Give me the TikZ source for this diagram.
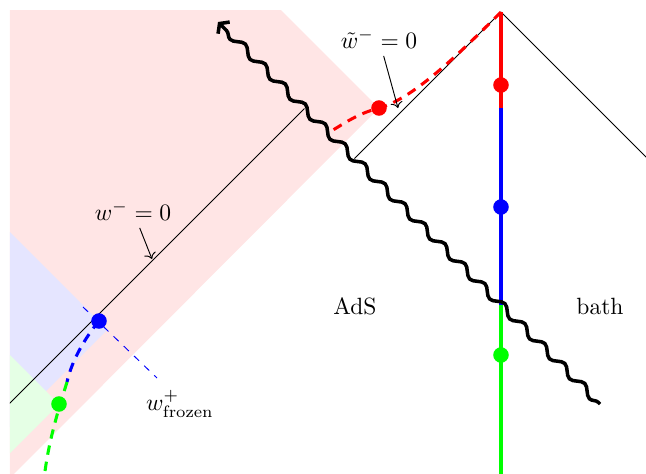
\documentclass[tikz,border=0pt]{standalone}
\usetikzlibrary{decorations.pathmorphing, arrows.meta}
\begin{document}
\begin{tikzpicture}[x=0.425pt, y=-0.425pt, >=To,
  nullray/.style={thin, black},
  edgeline/.style={line width=1.4pt},
  worldline/.style={line width=1.3pt, dash pattern=on 4pt off 3pt},
  dot/.style={circle, fill, inner sep=0pt, minimum size=6.6pt},
  shock/.style={line width=1.5pt, decorate,
    decoration={snake, segment length=12pt, amplitude=1.6pt, pre length=1pt, post length=3pt}},
  tag/.style={inner sep=3pt}]

  \useasboundingbox (0,0) rectangle (646,474);

  % points
  \coordinate (top) at (501,12);
  \coordinate (kinkR) at (354.5,158.5);
  \coordinate (kinkL) at (304.5,108.5);
  \coordinate (bRB) at (501,108);
  \coordinate (bBG) at (501,305);
  \coordinate (bot) at (501,474);

  \begin{scope}
    \clip (10,10) rectangle (646,474);
    % regions
    \fill[red!10] (10,10) -- (281,10) -- (379,108) -- (10,478) -- cycle;
    \fill[blue!10] (10,232) -- (107.5,329.5) -- (10,427) -- cycle;
    \fill[green!10] (10,355) -- (59,404) -- (10,453) -- cycle;
    % null rays
    \draw[nullray] (top) -- (660,171);
    \draw[nullray] (top) -- (kinkR);
    \draw[nullray] (kinkL) -- (0,413);
    % frozen ray
    \draw[blue, thin, dashed] (83,307) -- (157,378);
    % infalling curves
    \draw[worldline, red] (top) .. controls (455,58) and (412,99) .. (379,108)
      .. controls (357,114) and (345,123) .. (333,130);
    \draw[worldline, blue] (99,321) .. controls (85,338) and (72,360) .. (67,382);
    \draw[worldline, green] (67,382) .. controls (61,402) and (48,440) .. (44,480);
  \end{scope}

  % boundary
  \draw[edgeline, red] (top) -- (bRB);
  \draw[edgeline, blue] (bRB) -- (bBG);
  \draw[edgeline, green] (bBG) -- (bot);

  % shock wave
  \coordinate (shockA) at (600,404);
  \coordinate (shockB) at (218,22);
  \draw[shock, -{Straight Barb[length=2.6pt, width=7pt]}] (shockA) -- (shockB);

  % dots
  \node[dot, red] (r1) at (501,85) {};
  \node[dot, blue] (b1) at (501,207) {};
  \node[dot, green] (g1) at (501,355) {};
  \node[dot, red] (r2) at (379,108) {};
  \node[dot, blue] (b2) at (99,321) {};
  \node[dot, green] (g2) at (59,404) {};

  % labels
  \node[tag] (wminus) at (133,211) {$w^-=0$};
  \coordinate (wminusTip) at (152,259);
  \draw[->, thin] (wminus) -- (wminusTip);
  \node[tag] (wtilde) at (379,39) {$\tilde{w}^-=0$};
  \coordinate (wtildeTip) at (398,108);
  \draw[->, thin] (wtilde) -- (wtildeTip);
  \node[tag] (ads) at (355,306) {AdS};
  \node[tag] (bath) at (600,306) {bath};
  \node[tag] (frozen) at (180,404) {$w^+_{\rm frozen}$};
\end{tikzpicture}
\end{document}
